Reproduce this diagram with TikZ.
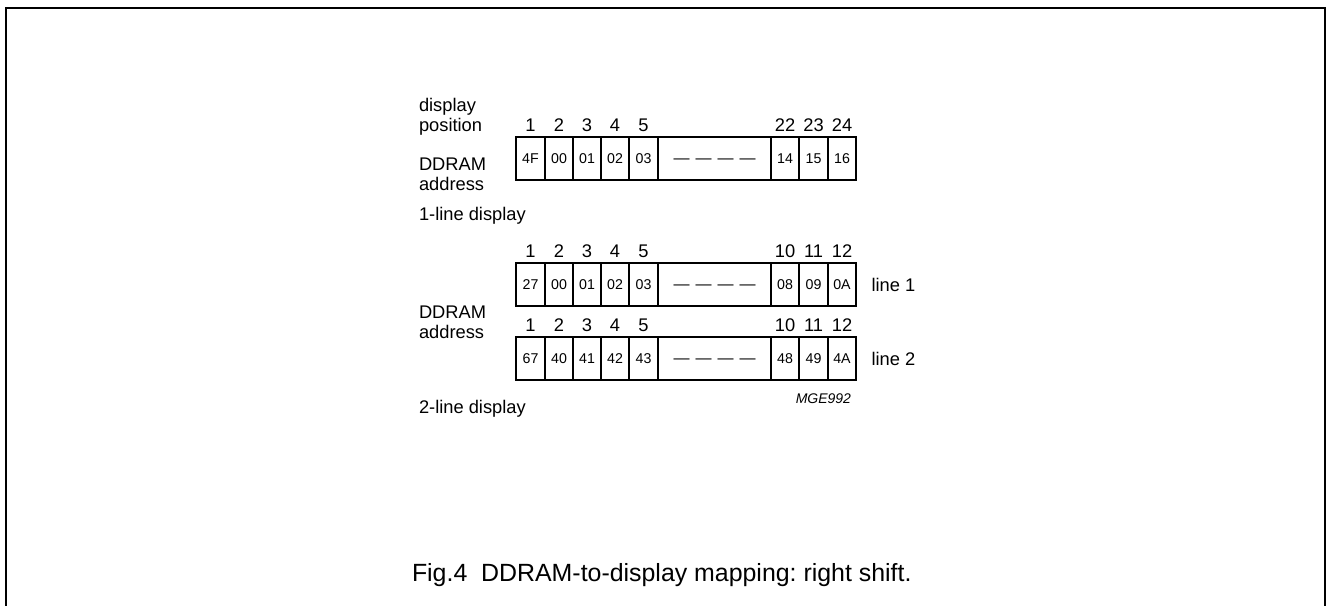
\documentclass[tikz,border=0pt]{standalone}
\usepackage{fontspec}
\setmainfont{Liberation Sans}
\usetikzlibrary{positioning}
\frenchspacing
\newcommand{\dashrun}{{\fontsize{8}{8}\selectfont\textemdash\hspace{3pt}\textemdash\hspace{3pt}\textemdash\hspace{3pt}\textemdash}}

\begin{document}
\begin{tikzpicture}[
            x=0.5pt, y=-0.5pt,
            every node/.style={inner sep=0pt, outer sep=0pt},
            lbl/.style={font=\fontsize{9.15}{10}\selectfont, align=left},
            posnum/.style={font=\fontsize{9.15}{10}\selectfont, anchor=base},
            cellbox/.style={draw, line width=0.75pt, minimum height=21.5pt,
                    font=\fontsize{7.1}{8}\selectfont, text height=5.1pt, text depth=0pt},
            tag/.style={font=\fontsize{7}{8}\selectfont\itshape},
            figcap/.style={font=\fontsize{12.45}{14}\selectfont}
        ]
        \useasboundingbox (0,0) rectangle (1327,605);

        % ================= bingkai =================
        \draw[line width=0.75pt] (6,606) -- (6,8) -- (1325,8) -- (1325,606);

        % ================= 1-line display (y = 158.5) =================
        \node[lbl, anchor=north west] (dpos)  at (419,98)    {display\\position};
        \node[lbl, anchor=north west] (addra) at (419,157.7) {DDRAM\\address};
        \foreach \xl/\xr/\txt [count=\i] in {516/545/4F, 545/573/00, 573/601/01, 601/629/02,
                629/658/03, 658/771/\dashrun, 771/799/14, 799/828/15, 828/856/16}
            \node[cellbox, minimum width={(\xr-\xl)*0.5pt}] (a\i) at ({(\xl+\xr)/2},158.5) {\txt};
        \foreach \i/\n in {1/1, 2/2, 3/3, 4/4, 5/5, 7/22, 8/23, 9/24}
            \node[posnum] (pa\i) at ([yshift=3pt]a\i.north) {\n};
        \node[lbl, anchor=base west] (onel) at (419,220.5) {1-line display};

        % ================= 2-line display: line 1 (y = 284.5) =================
        \foreach \xl/\xr/\txt [count=\i] in {516/545/27, 545/573/00, 573/601/01, 601/629/02,
                629/658/03, 658/771/\dashrun, 771/799/08, 799/828/09, 828/856/0A}
            \node[cellbox, minimum width={(\xr-\xl)*0.5pt}] (b\i) at ({(\xl+\xr)/2},284.5) {\txt};
        \foreach \i/\n in {1/1, 2/2, 3/3, 4/4, 5/5, 7/10, 8/11, 9/12}
            \node[posnum] (pb\i) at ([yshift=3pt]b\i.north) {\n};
        \node[lbl, right=7.8pt of b9] (lnone) {line 1};

        % ================= 2-line display: line 2 (y = 358.5) =================
        \node[lbl, anchor=north west] (addrb) at (419,306) {DDRAM\\address};
        \foreach \xl/\xr/\txt [count=\i] in {516/545/67, 545/573/40, 573/601/41, 601/629/42,
                629/658/43, 658/771/\dashrun, 771/799/48, 799/828/49, 828/856/4A}
            \node[cellbox, minimum width={(\xr-\xl)*0.5pt}] (c\i) at ({(\xl+\xr)/2},358.5) {\txt};
        \foreach \i/\n in {1/1, 2/2, 3/3, 4/4, 5/5, 7/10, 8/11, 9/12}
            \node[posnum] (pc\i) at ([yshift=3pt]c\i.north) {\n};
        \node[lbl, right=7.8pt of c9] (lntwo) {line 2};

        \node[tag, anchor=base east] (code) at (851,403) {MGE992};
        \node[lbl, anchor=base west] (twol) at (419,413) {2-line display};

        % ================= keterangan =================
        \node[figcap, anchor=base west] (fig) at (412,581) {Fig.4~~DDRAM-to-display mapping: right shift.};

    \end{tikzpicture}
\end{document}
